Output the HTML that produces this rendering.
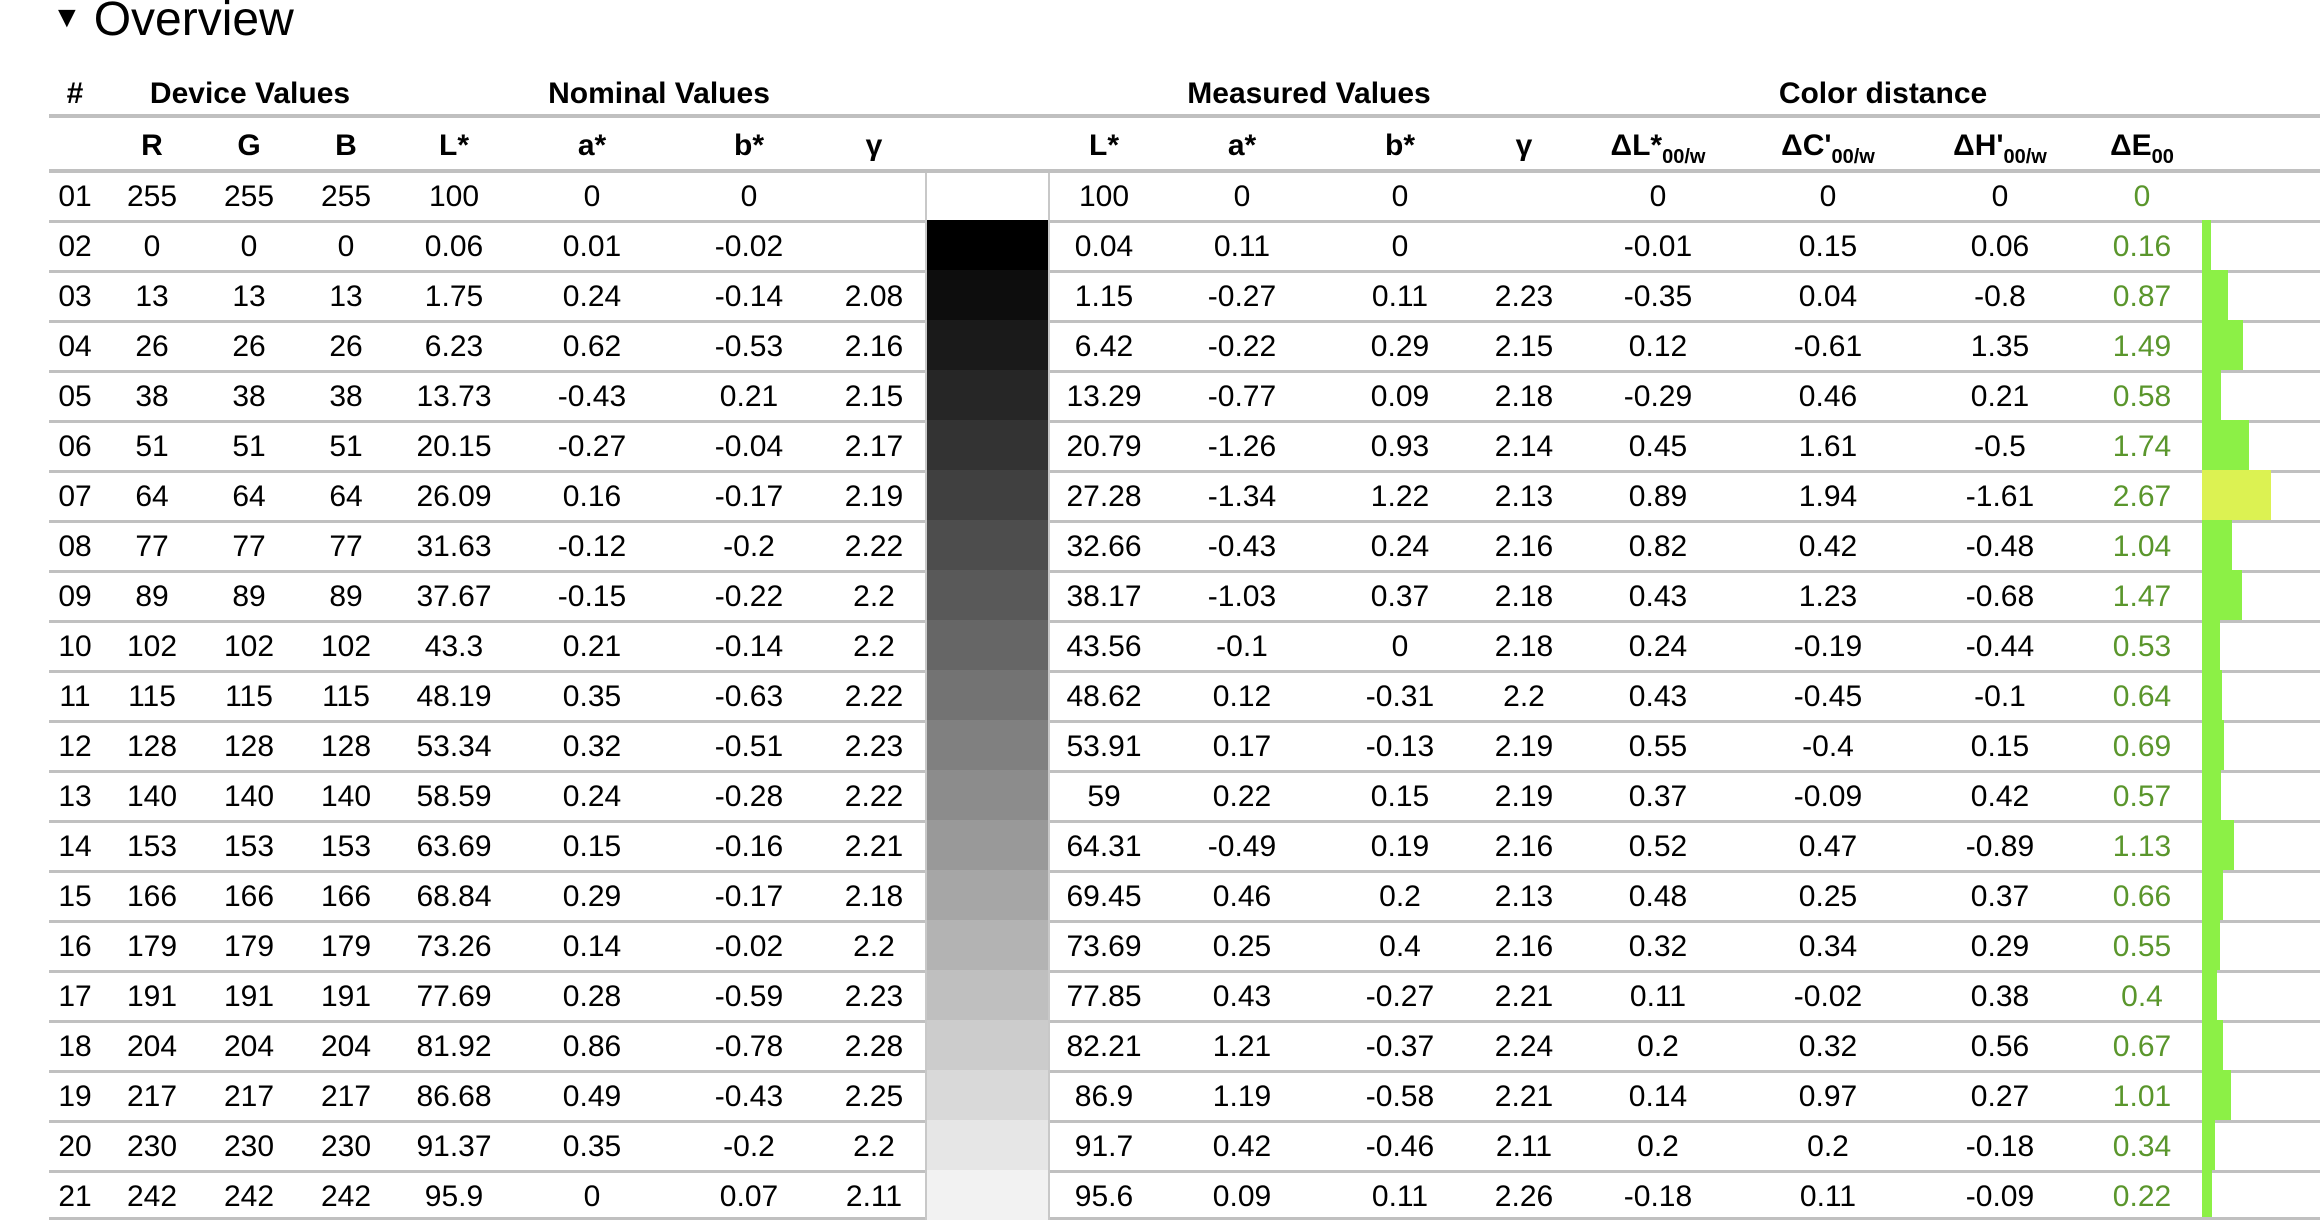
<!DOCTYPE html>
<html><head><meta charset="utf-8"><style>
body{margin:0;width:2320px;height:1220px;overflow:hidden;background:#fff;font-family:"Liberation Sans",sans-serif;color:#000;position:relative}
.t{position:absolute;left:52px;top:-10px;font-size:48px;line-height:56px}
.t i{font-style:normal;font-size:30px;display:inline-block;vertical-align:8px;margin-right:12px}
.h{position:absolute;font-weight:bold;font-size:30px;line-height:36px;white-space:nowrap;transform:translateX(-50%)}
.hl{position:absolute;left:49px;right:0;height:4px;background:#c0c0c0}
.r{position:absolute;left:0;width:2320px;height:50px}
.r .la{position:absolute;left:49px;width:876px;top:0;height:3px;background:#c0c0c0}
.r .lb{position:absolute;left:1050px;right:0;top:0;height:3px;background:#c0c0c0}
.r span{position:absolute;top:3px;line-height:48px;font-size:30px;width:160px;margin-left:-80px;text-align:center;white-space:nowrap}
.r span:nth-of-type(1){left:75px}.r span:nth-of-type(2){left:152px}.r span:nth-of-type(3){left:249px}.r span:nth-of-type(4){left:346px}
.r span:nth-of-type(5){left:454px}.r span:nth-of-type(6){left:592px}.r span:nth-of-type(7){left:749px}.r span:nth-of-type(8){left:874px}
.r span:nth-of-type(9){left:1104px}.r span:nth-of-type(10){left:1242px}.r span:nth-of-type(11){left:1400px}.r span:nth-of-type(12){left:1524px}
.r span:nth-of-type(13){left:1658px}.r span:nth-of-type(14){left:1828px}.r span:nth-of-type(15){left:2000px}.r span:nth-of-type(16){left:2142px;color:#5a962c}
.sw{position:absolute;left:925px;width:125px;top:0;height:50px;box-sizing:border-box;border-left:2px solid #c8c8c8;border-right:2px solid #c8c8c8}
.b{position:absolute;left:2202px;top:0;height:50px;background:#8cf046}
sub{font-size:20px;vertical-align:-8px}
</style></head><body>
<div class="t"><i>▼</i>Overview</div>
<div class="h" style="left:75px;top:76px">#</div>
<div class="h" style="left:250px;top:76px">Device Values</div>
<div class="h" style="left:659px;top:76px">Nominal Values</div>
<div class="h" style="left:1309px;top:76px">Measured Values</div>
<div class="h" style="left:1883px;top:76px">Color distance</div>
<div class="hl" style="top:114px"></div>
<div class="h" style="left:152px;top:128px">R</div>
<div class="h" style="left:249px;top:128px">G</div>
<div class="h" style="left:346px;top:128px">B</div>
<div class="h" style="left:454px;top:128px">L*</div>
<div class="h" style="left:592px;top:128px">a*</div>
<div class="h" style="left:749px;top:128px">b*</div>
<div class="h" style="left:874px;top:128px">γ</div>
<div class="h" style="left:1104px;top:128px">L*</div>
<div class="h" style="left:1242px;top:128px">a*</div>
<div class="h" style="left:1400px;top:128px">b*</div>
<div class="h" style="left:1524px;top:128px">γ</div>
<div class="h" style="left:1658px;top:128px">ΔL*<sub>00/w</sub></div>
<div class="h" style="left:1828px;top:128px">ΔC'<sub>00/w</sub></div>
<div class="h" style="left:2000px;top:128px">ΔH'<sub>00/w</sub></div>
<div class="h" style="left:2142px;top:128px">ΔE<sub>00</sub></div>
<div class="hl" style="top:169px"></div>

<div class="r" style="top:170px"><div class="la"></div><div class="lb"></div><div class="sw" style="background:#fff;top:3px;height:47px"></div><span>01</span><span>255</span><span>255</span><span>255</span><span>100</span><span>0</span><span>0</span><span></span><span>100</span><span>0</span><span>0</span><span></span><span>0</span><span>0</span><span>0</span><span>0</span></div>
<div class="r" style="top:220px"><div class="la"></div><div class="lb"></div><div class="sw" style="background:rgb(0,0,0)"></div><div class="b" style="width:9px"></div><span>02</span><span>0</span><span>0</span><span>0</span><span>0.06</span><span>0.01</span><span>-0.02</span><span></span><span>0.04</span><span>0.11</span><span>0</span><span></span><span>-0.01</span><span>0.15</span><span>0.06</span><span>0.16</span></div>
<div class="r" style="top:270px"><div class="la"></div><div class="lb"></div><div class="sw" style="background:rgb(13,13,13)"></div><div class="b" style="width:26px"></div><span>03</span><span>13</span><span>13</span><span>13</span><span>1.75</span><span>0.24</span><span>-0.14</span><span>2.08</span><span>1.15</span><span>-0.27</span><span>0.11</span><span>2.23</span><span>-0.35</span><span>0.04</span><span>-0.8</span><span>0.87</span></div>
<div class="r" style="top:320px"><div class="la"></div><div class="lb"></div><div class="sw" style="background:rgb(26,26,26)"></div><div class="b" style="width:41px"></div><span>04</span><span>26</span><span>26</span><span>26</span><span>6.23</span><span>0.62</span><span>-0.53</span><span>2.16</span><span>6.42</span><span>-0.22</span><span>0.29</span><span>2.15</span><span>0.12</span><span>-0.61</span><span>1.35</span><span>1.49</span></div>
<div class="r" style="top:370px"><div class="la"></div><div class="lb"></div><div class="sw" style="background:rgb(38,38,38)"></div><div class="b" style="width:19px"></div><span>05</span><span>38</span><span>38</span><span>38</span><span>13.73</span><span>-0.43</span><span>0.21</span><span>2.15</span><span>13.29</span><span>-0.77</span><span>0.09</span><span>2.18</span><span>-0.29</span><span>0.46</span><span>0.21</span><span>0.58</span></div>
<div class="r" style="top:420px"><div class="la"></div><div class="lb"></div><div class="sw" style="background:rgb(51,51,51)"></div><div class="b" style="width:47px"></div><span>06</span><span>51</span><span>51</span><span>51</span><span>20.15</span><span>-0.27</span><span>-0.04</span><span>2.17</span><span>20.79</span><span>-1.26</span><span>0.93</span><span>2.14</span><span>0.45</span><span>1.61</span><span>-0.5</span><span>1.74</span></div>
<div class="r" style="top:470px"><div class="la"></div><div class="lb"></div><div class="sw" style="background:rgb(64,64,64)"></div><div class="b" style="width:69px;background:#dcf252"></div><span>07</span><span>64</span><span>64</span><span>64</span><span>26.09</span><span>0.16</span><span>-0.17</span><span>2.19</span><span>27.28</span><span>-1.34</span><span>1.22</span><span>2.13</span><span>0.89</span><span>1.94</span><span>-1.61</span><span>2.67</span></div>
<div class="r" style="top:520px"><div class="la"></div><div class="lb"></div><div class="sw" style="background:rgb(77,77,77)"></div><div class="b" style="width:30px"></div><span>08</span><span>77</span><span>77</span><span>77</span><span>31.63</span><span>-0.12</span><span>-0.2</span><span>2.22</span><span>32.66</span><span>-0.43</span><span>0.24</span><span>2.16</span><span>0.82</span><span>0.42</span><span>-0.48</span><span>1.04</span></div>
<div class="r" style="top:570px"><div class="la"></div><div class="lb"></div><div class="sw" style="background:rgb(89,89,89)"></div><div class="b" style="width:40px"></div><span>09</span><span>89</span><span>89</span><span>89</span><span>37.67</span><span>-0.15</span><span>-0.22</span><span>2.2</span><span>38.17</span><span>-1.03</span><span>0.37</span><span>2.18</span><span>0.43</span><span>1.23</span><span>-0.68</span><span>1.47</span></div>
<div class="r" style="top:620px"><div class="la"></div><div class="lb"></div><div class="sw" style="background:rgb(102,102,102)"></div><div class="b" style="width:18px"></div><span>10</span><span>102</span><span>102</span><span>102</span><span>43.3</span><span>0.21</span><span>-0.14</span><span>2.2</span><span>43.56</span><span>-0.1</span><span>0</span><span>2.18</span><span>0.24</span><span>-0.19</span><span>-0.44</span><span>0.53</span></div>
<div class="r" style="top:670px"><div class="la"></div><div class="lb"></div><div class="sw" style="background:rgb(115,115,115)"></div><div class="b" style="width:20px"></div><span>11</span><span>115</span><span>115</span><span>115</span><span>48.19</span><span>0.35</span><span>-0.63</span><span>2.22</span><span>48.62</span><span>0.12</span><span>-0.31</span><span>2.2</span><span>0.43</span><span>-0.45</span><span>-0.1</span><span>0.64</span></div>
<div class="r" style="top:720px"><div class="la"></div><div class="lb"></div><div class="sw" style="background:rgb(128,128,128)"></div><div class="b" style="width:22px"></div><span>12</span><span>128</span><span>128</span><span>128</span><span>53.34</span><span>0.32</span><span>-0.51</span><span>2.23</span><span>53.91</span><span>0.17</span><span>-0.13</span><span>2.19</span><span>0.55</span><span>-0.4</span><span>0.15</span><span>0.69</span></div>
<div class="r" style="top:770px"><div class="la"></div><div class="lb"></div><div class="sw" style="background:rgb(140,140,140)"></div><div class="b" style="width:19px"></div><span>13</span><span>140</span><span>140</span><span>140</span><span>58.59</span><span>0.24</span><span>-0.28</span><span>2.22</span><span>59</span><span>0.22</span><span>0.15</span><span>2.19</span><span>0.37</span><span>-0.09</span><span>0.42</span><span>0.57</span></div>
<div class="r" style="top:820px"><div class="la"></div><div class="lb"></div><div class="sw" style="background:rgb(153,153,153)"></div><div class="b" style="width:32px"></div><span>14</span><span>153</span><span>153</span><span>153</span><span>63.69</span><span>0.15</span><span>-0.16</span><span>2.21</span><span>64.31</span><span>-0.49</span><span>0.19</span><span>2.16</span><span>0.52</span><span>0.47</span><span>-0.89</span><span>1.13</span></div>
<div class="r" style="top:870px"><div class="la"></div><div class="lb"></div><div class="sw" style="background:rgb(166,166,166)"></div><div class="b" style="width:21px"></div><span>15</span><span>166</span><span>166</span><span>166</span><span>68.84</span><span>0.29</span><span>-0.17</span><span>2.18</span><span>69.45</span><span>0.46</span><span>0.2</span><span>2.13</span><span>0.48</span><span>0.25</span><span>0.37</span><span>0.66</span></div>
<div class="r" style="top:920px"><div class="la"></div><div class="lb"></div><div class="sw" style="background:rgb(179,179,179)"></div><div class="b" style="width:18px"></div><span>16</span><span>179</span><span>179</span><span>179</span><span>73.26</span><span>0.14</span><span>-0.02</span><span>2.2</span><span>73.69</span><span>0.25</span><span>0.4</span><span>2.16</span><span>0.32</span><span>0.34</span><span>0.29</span><span>0.55</span></div>
<div class="r" style="top:970px"><div class="la"></div><div class="lb"></div><div class="sw" style="background:rgb(191,191,191)"></div><div class="b" style="width:15px"></div><span>17</span><span>191</span><span>191</span><span>191</span><span>77.69</span><span>0.28</span><span>-0.59</span><span>2.23</span><span>77.85</span><span>0.43</span><span>-0.27</span><span>2.21</span><span>0.11</span><span>-0.02</span><span>0.38</span><span>0.4</span></div>
<div class="r" style="top:1020px"><div class="la"></div><div class="lb"></div><div class="sw" style="background:rgb(204,204,204)"></div><div class="b" style="width:21px"></div><span>18</span><span>204</span><span>204</span><span>204</span><span>81.92</span><span>0.86</span><span>-0.78</span><span>2.28</span><span>82.21</span><span>1.21</span><span>-0.37</span><span>2.24</span><span>0.2</span><span>0.32</span><span>0.56</span><span>0.67</span></div>
<div class="r" style="top:1070px"><div class="la"></div><div class="lb"></div><div class="sw" style="background:rgb(217,217,217)"></div><div class="b" style="width:29px"></div><span>19</span><span>217</span><span>217</span><span>217</span><span>86.68</span><span>0.49</span><span>-0.43</span><span>2.25</span><span>86.9</span><span>1.19</span><span>-0.58</span><span>2.21</span><span>0.14</span><span>0.97</span><span>0.27</span><span>1.01</span></div>
<div class="r" style="top:1120px"><div class="la"></div><div class="lb"></div><div class="sw" style="background:rgb(230,230,230)"></div><div class="b" style="width:13px"></div><span>20</span><span>230</span><span>230</span><span>230</span><span>91.37</span><span>0.35</span><span>-0.2</span><span>2.2</span><span>91.7</span><span>0.42</span><span>-0.46</span><span>2.11</span><span>0.2</span><span>0.2</span><span>-0.18</span><span>0.34</span></div>
<div class="r" style="top:1170px"><div class="la"></div><div class="lb"></div><div class="sw" style="background:rgb(242,242,242)"></div><div class="b" style="width:10px"></div><span>21</span><span>242</span><span>242</span><span>242</span><span>95.9</span><span>0</span><span>0.07</span><span>2.11</span><span>95.6</span><span>0.09</span><span>0.11</span><span>2.26</span><span>-0.18</span><span>0.11</span><span>-0.09</span><span>0.22</span></div>
<div class="hl" style="top:1217px;right:0;left:49px;height:3px;width:876px"></div>
<div class="hl" style="top:1217px;left:1050px;height:3px"></div>
</body></html>
